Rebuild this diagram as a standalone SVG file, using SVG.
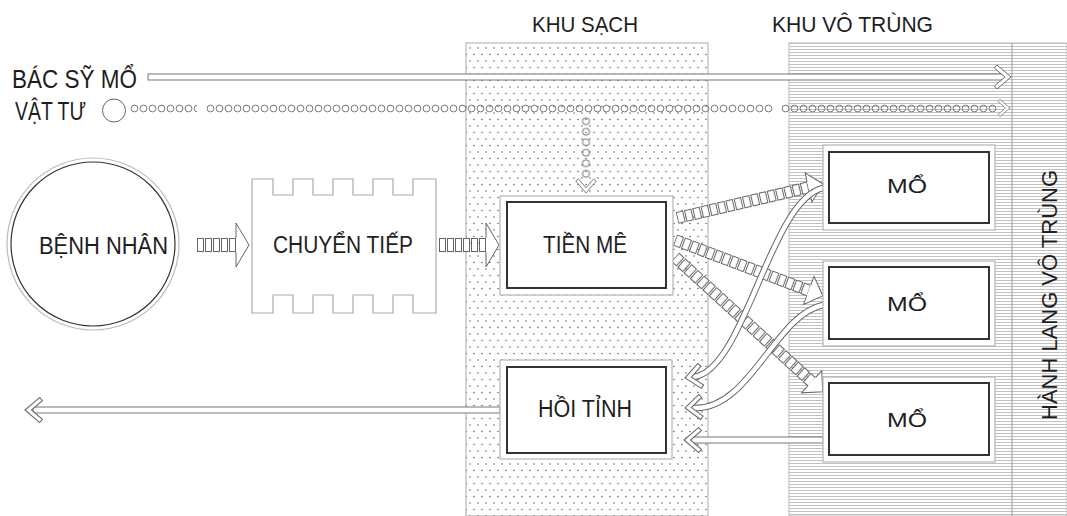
<svg xmlns="http://www.w3.org/2000/svg" width="1067" height="516" viewBox="0 0 1067 516">
  <style>
    .lbl { font-family: "Liberation Sans", Arial, sans-serif; fill: #1e1e1e; }
    .outer { fill: #fff; stroke: #b5b5b5; stroke-width: 1.2; }
    .inner { fill: #fff; stroke: #333; stroke-width: 2; }
    .chev { fill: #fff; stroke: #666; stroke-width: 1; }
    .bar { fill: #fff; stroke: #777; stroke-width: 1; }
    .curve-o { fill: none; stroke: #666; stroke-width: 6.5; }
    .curve-i { fill: none; stroke: #fff; stroke-width: 4.5; }
    .head { fill: #fff; stroke: #666; stroke-width: 1; }
  </style>
  <defs>
    <pattern id="dots" x="0" y="0" width="8" height="13" patternUnits="userSpaceOnUse">
      <circle cx="2" cy="2.5" r="0.8" fill="#666"/>
      <circle cx="6" cy="9" r="0.8" fill="#666"/>
    </pattern>
    <pattern id="hatch" x="0" y="0" width="8" height="3" patternUnits="userSpaceOnUse">
      <rect x="0" y="1" width="8" height="1" fill="#c2c2c2"/>
    </pattern>
    <pattern id="circ" x="0" y="-4.5" width="9" height="9" patternUnits="userSpaceOnUse">
      <circle cx="4.5" cy="4.5" r="3.4" fill="none" stroke="#777" stroke-width="1"/>
    </pattern>
    <pattern id="circv" x="-4.5" y="0" width="9" height="10.5" patternUnits="userSpaceOnUse">
      <circle cx="4.5" cy="5.25" r="3.4" fill="none" stroke="#777" stroke-width="1"/>
    </pattern>
    <pattern id="sqh" x="0" y="-7" width="8" height="14" patternUnits="userSpaceOnUse">
      <rect x="0.5" y="0.5" width="6" height="13" fill="#fff" stroke="#666" stroke-width="1"/>
    </pattern>
    <pattern id="sqd" x="0" y="-6" width="8.5" height="12" patternUnits="userSpaceOnUse">
      <rect x="0.5" y="0.5" width="6.5" height="11" fill="#fff" stroke="#666" stroke-width="1"/>
    </pattern>
    <path id="chev" d="M-14,-12 L0,0 L-14,12 L-16.6,8.96 L-6.15,0 L-16.6,-8.96 Z"/>
    <path id="headh" d="M0,-7 L0,-22 L13,0 L0,22 L0,7"/>
    <path id="headd" d="M0,-6 L0,-15 L15,0 L0,15 L0,6"/>
  </defs>

  <!-- zones -->
  <g id="khu-sach">
    <rect x="466" y="43" width="242" height="473" fill="#fff" stroke="#aaa" stroke-width="1"/>
    <rect x="466" y="43" width="242" height="473" fill="url(#dots)"/>
    <text class="lbl" x="585" y="32" font-size="22" text-anchor="middle" textLength="106" lengthAdjust="spacingAndGlyphs">KHU SẠCH</text>
  </g>
  <g id="khu-vo-trung">
    <rect x="789" y="43" width="278" height="473" fill="url(#hatch)" stroke="#bbb" stroke-width="1"/>
    <line x1="1012" y1="43" x2="1012" y2="516" stroke="#999" stroke-width="1"/>
    <text class="lbl" x="852.5" y="32" font-size="22" text-anchor="middle" textLength="161" lengthAdjust="spacingAndGlyphs">KHU VÔ TRÙNG</text>
  </g>
  <g id="hanh-lang">
    <text class="lbl" transform="translate(1057,295) rotate(-90)" x="0" y="0" font-size="22" text-anchor="middle" textLength="250" lengthAdjust="spacingAndGlyphs">HÀNH LANG VÔ TRÙNG</text>
  </g>

  <!-- flow labels -->
  <g id="flow-labels">
    <text class="lbl" x="12" y="88" font-size="25" textLength="125" lengthAdjust="spacingAndGlyphs">BÁC SỸ MỔ</text>
    <text class="lbl" x="15" y="120" font-size="25" textLength="71" lengthAdjust="spacingAndGlyphs">VẬT TƯ</text>
  </g>

  <!-- connectors -->
  <g id="connectors">
    <!-- doctor flow -->
    <rect class="bar" x="148" y="74" width="857" height="6"/>
    <use href="#chev" class="chev" transform="translate(1011,77)"/>
    <!-- supplies flow -->
    <circle cx="114" cy="110.5" r="11.5" fill="#fff" stroke="#666" stroke-width="1"/>
    <g transform="translate(130,108.5)">
      <rect x="0" y="-4.5" width="67" height="9" fill="url(#circ)"/>
    </g>
    <g transform="translate(206,108.5)">
      <rect x="0" y="-4.5" width="567" height="9" fill="url(#circ)"/>
    </g>
    <g transform="translate(781,108.5)">
      <rect x="0" y="-4.5" width="216" height="9" fill="url(#circ)"/>
    </g>
    <use href="#chev" class="chev" transform="translate(1010,108) scale(0.72)"/>
    <!-- supplies down to TIEN ME -->
    <g transform="translate(586,116)">
      <rect x="-4.5" y="0" width="9" height="63" fill="url(#circv)"/>
    </g>
    <use href="#chev" class="chev" transform="translate(586,193) rotate(90) scale(0.85)"/>

    <!-- BENH NHAN -> CHUYEN TIEP -->
    <g transform="translate(197,245)">
      <rect x="0" y="-7" width="40" height="14" fill="url(#sqh)"/>
      <use href="#headh" class="head" transform="translate(39,0)"/>
    </g>
    <!-- CHUYEN TIEP -> TIEN ME -->
    <g transform="translate(439,245)">
      <rect x="0" y="-7" width="47" height="14" fill="url(#sqh)"/>
      <use href="#headh" class="head" transform="translate(47,0)"/>
    </g>

    <!-- TIEN ME -> MO (diagonals) -->
    <g transform="translate(677,218) rotate(-13.1)">
      <rect x="0" y="-6" width="135" height="12" fill="url(#sqd)"/>
      <use href="#headd" class="head" transform="translate(135,0)"/>
    </g>
    <g transform="translate(675,240) rotate(20.7)">
      <rect x="0" y="-6" width="143" height="12" fill="url(#sqd)"/>
      <use href="#headd" class="head" transform="translate(143,0)"/>
    </g>
    <g transform="translate(675,257) rotate(42.4)">
      <rect x="0" y="-6" width="185" height="12" fill="url(#sqd)"/>
      <use href="#headd" class="head" transform="translate(185,0)"/>
    </g>

    <!-- MO -> HOI TINH (returns) -->
    <path class="curve-o" d="M823,188 C770,200 745,370 694,377"/>
    <path class="curve-i" d="M823,188 C770,200 745,370 694,377"/>
    <use href="#chev" class="chev" transform="translate(685,378) rotate(172) scale(1.05)"/>
    <path class="curve-o" d="M823,305 C775,315 750,410 694,408"/>
    <path class="curve-i" d="M823,305 C775,315 750,410 694,408"/>
    <use href="#chev" class="chev" transform="translate(685,408) rotate(176) scale(1.05)"/>
    <rect class="bar" x="690" y="437" width="133" height="6"/>
    <use href="#chev" class="chev" transform="translate(684,440) rotate(180) scale(1.05)"/>

    <!-- HOI TINH -> exit -->
    <rect class="bar" x="33" y="407" width="467" height="6"/>
    <use href="#chev" class="chev" transform="translate(25,410) rotate(180) scale(1.05)"/>
  </g>

  <!-- nodes -->
  <g id="benh-nhan">
    <circle cx="93" cy="244" r="86" fill="#fff" stroke="#bbb" stroke-width="1.2"/>
    <circle cx="93" cy="244" r="82" fill="#fff" stroke="#333" stroke-width="1.2"/>
    <text class="lbl" x="103.5" y="254" font-size="23" text-anchor="middle" textLength="129" lengthAdjust="spacingAndGlyphs">BỆNH NHÂN</text>
  </g>
  <g id="chuyen-tiep">
    <path d="M252,179 H273 V195 H293 V179 H313 V195 H333 V179 H353 V195 H373 V179 H393 V195 H413 V179 H436 V313 H413 V295 H393 V313 H373 V295 H353 V313 H333 V295 H313 V313 H293 V295 H273 V313 H252 Z" fill="#fff" stroke="#aaa" stroke-width="1.2"/>
    <text class="lbl" x="343" y="253" font-size="23" text-anchor="middle" textLength="140" lengthAdjust="spacingAndGlyphs">CHUYỂN TIẾP</text>
  </g>
  <g id="tien-me">
    <rect class="outer" x="500" y="196" width="173" height="99"/>
    <rect class="inner" x="507" y="202" width="159" height="86"/>
    <text class="lbl" x="585" y="253" font-size="23" text-anchor="middle" textLength="84" lengthAdjust="spacingAndGlyphs">TIỀN MÊ</text>
  </g>
  <g id="hoi-tinh">
    <rect class="outer" x="500" y="360" width="172" height="99"/>
    <rect class="inner" x="507" y="367" width="159" height="86"/>
    <text class="lbl" x="585" y="417" font-size="23" text-anchor="middle" textLength="94" lengthAdjust="spacingAndGlyphs">HỒI TỈNH</text>
  </g>
  <g id="mo-1">
    <rect class="outer" x="823" y="145" width="172" height="85"/>
    <rect class="inner" x="829" y="152" width="160" height="71"/>
    <text class="lbl" x="907" y="193" font-size="21" text-anchor="middle" textLength="40" lengthAdjust="spacingAndGlyphs">MỔ</text>
  </g>
  <g id="mo-2">
    <rect class="outer" x="823" y="261" width="172" height="85"/>
    <rect class="inner" x="829" y="267" width="160" height="72"/>
    <text class="lbl" x="907" y="311" font-size="21" text-anchor="middle" textLength="40" lengthAdjust="spacingAndGlyphs">MỔ</text>
  </g>
  <g id="mo-3">
    <rect class="outer" x="823" y="377" width="172" height="85"/>
    <rect class="inner" x="829" y="383" width="160" height="72"/>
    <text class="lbl" x="907" y="427" font-size="21" text-anchor="middle" textLength="40" lengthAdjust="spacingAndGlyphs">MỔ</text>
  </g>
</svg>
